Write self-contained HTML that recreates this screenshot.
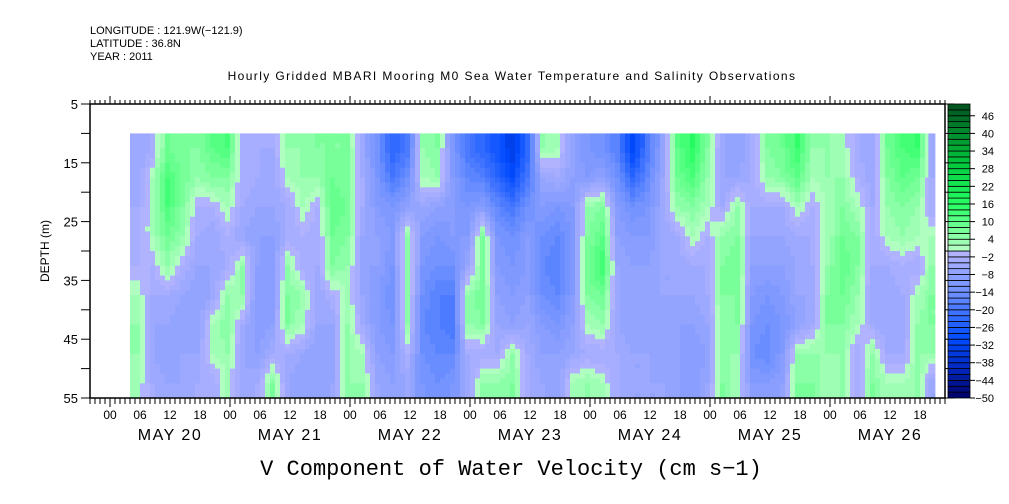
<!DOCTYPE html>
<html><head><meta charset="utf-8"><style>
body{margin:0;background:#fff;width:1009px;height:504px;overflow:hidden}
svg{display:block;font-family:"Liberation Sans",sans-serif}
</style></head><body>
<svg id="chart" width="1009" height="504" viewBox="0 0 1009 504" xmlns="http://www.w3.org/2000/svg">
<g font-size="11" fill="#000">
<text x="90" y="34">LONGITUDE : 121.9W(−121.9)</text>
<text x="90" y="47">LATITUDE : 36.8N</text>
<text x="90" y="60">YEAR : 2011</text>
<text x="512" y="80" text-anchor="middle" font-size="12" letter-spacing="1.4">Hourly Gridded MBARI Mooring M0 Sea Water Temperature and Salinity Observations</text>
</g>
<g id="cells"></g>
<g id="axes"></g>
<g id="cbar"></g>
<text x="49" y="251" transform="rotate(-90 49 251)" text-anchor="middle" font-size="12">DEPTH (m)</text>
<text x="511" y="475" text-anchor="middle" font-size="22" font-family="Liberation Mono, monospace">V Component of Water Velocity (cm s−1)</text>
</svg>
<script>
// hours since May 20 00:00 of first column start; columns 3h wide
const colStartHours = [4,7,10,13,16,19,22,25,28,31,34,37,40,43,46,49,52,55,58,61,64,67,70,73,76,79,82,85,88,91,94,97,100,103,106,109,112,115,118,121,124,127,130,133,136,139,142,145,148,151,154,157,160,163];
const depthEdges = [10,15,20,25,30,35,40,45,50,55];
const velocity = [
[-6,-6,-4,-4,-2,2,4,4,2],
[-4,2,2,2,-2,-4,-6,-6,-4],
[8,12,12,8,4,-4,-6,-8,-6],
[6,8,6,4,-2,-6,-8,-6,-6],
[6,4,-2,-4,-6,-8,-8,-6,-4],
[10,6,-2,-6,-6,-6,2,2,-4],
[12,6,2,-2,-4,4,6,4,2],
[-4,-2,-4,-6,4,4,-4,-6,-6],
[-4,-4,-6,-8,-8,-10,-10,-8,-4],
[-4,-6,-6,-8,-10,-10,-8,-4,6],
[4,2,-4,-4,4,6,6,-4,-6],
[4,4,2,-2,-4,4,2,-6,-8],
[6,4,-2,-4,-4,-6,-6,-8,-8],
[6,8,10,8,6,-2,-6,-8,-6],
[6,6,8,6,4,2,4,4,4],
[-6,-4,-4,-6,-8,-6,-4,2,4],
[-14,-12,-10,-8,-8,-10,-10,-8,-6],
[-24,-20,-12,-10,-12,-14,-12,-10,-8],
[-20,-14,-8,4,6,4,4,-2,-6],
[4,2,-6,-10,-12,-14,-16,-14,-12],
[6,4,-8,-12,-14,-18,-18,-16,-14],
[-12,-10,-10,-10,-14,-18,-20,-16,-12],
[-20,-16,-12,-10,-6,4,4,-4,-6],
[-24,-18,-10,6,6,8,6,-4,4],
[-28,-24,-16,-12,-10,-8,-6,-4,4],
[-34,-30,-20,-14,-12,-10,-8,4,6],
[-24,-20,-14,-10,-10,-8,-6,-4,-4],
[4,-6,-10,-14,-16,-14,-10,-8,-6],
[2,-4,-12,-16,-18,-16,-12,-8,-8],
[-8,-8,-10,-12,-12,-10,-8,-6,2],
[-12,-10,4,6,8,6,2,-4,4],
[-14,-8,6,10,14,8,4,-4,2],
[-18,-14,-10,-8,-6,-6,-6,-4,-4],
[-32,-24,-14,-10,-8,-8,-8,-6,-6],
[-20,-16,-12,-10,-8,-8,-8,-6,-6],
[-8,-6,-6,-6,-6,-6,-8,-8,-6],
[10,8,4,-4,-6,-6,-8,-8,-8],
[16,12,6,2,-4,-6,-8,-10,-10],
[6,4,2,-2,-4,-4,-6,-8,-6],
[-6,-6,-4,4,6,6,4,4,6],
[-8,-6,4,6,8,6,6,4,2],
[-4,-4,-4,-6,-8,-10,-12,-14,-10],
[6,4,-4,-6,-8,-12,-14,-16,-10],
[8,6,-4,-6,-8,-10,-12,-10,-8],
[14,10,2,-4,-6,-6,-8,4,6],
[4,2,-2,-4,-4,-6,-4,4,6],
[4,4,2,2,4,6,6,4,2],
[2,4,6,8,10,8,6,4,4],
[-4,-2,2,6,6,4,2,-4,-4],
[-6,-6,-4,-4,-4,-6,-4,4,6],
[8,6,4,2,-4,-6,-6,-4,2],
[12,10,6,4,-2,-4,-6,-4,2],
[14,8,4,2,-4,2,4,4,4],
[-6,-4,-4,2,4,6,6,4,-6]
];
const colWidthHours = 3;
const dataEndHour = 165;
const cbarLabels = [46,40,34,28,22,16,10,4,-2,-8,-14,-20,-26,-32,-38,-44,-50];
const dayLabels = ["MAY 20","MAY 21","MAY 22","MAY 23","MAY 24","MAY 25","MAY 26"];
const hourLabels = ["00","06","12","18"];

const X0=90,X1=945,Y0=104,Y1=398;
const xScale=h=>110+h*5;             // hours since May 20 00:00
const yScale=d=>Y0+(d-5)*(Y1-Y0)/50; // depth m
const NS="http://www.w3.org/2000/svg";
function mk(t,a,p){const e=document.createElementNS(NS,t);for(const k in a)e.setAttribute(k,a[k]);p.appendChild(e);return e;}
function lerp(a,b,t){return a.map((v,i)=>Math.round(v+(b[i]-v)*t));}
function color(v){
  const neg=[[0,[182,182,255]],[-14,[112,145,255]],[-30,[0,75,255]],[-40,[0,40,190]],[-50,[0,0,100]]];
  const pos=[[0,[185,255,200]],[6,[130,255,160]],[16,[40,255,100]],[30,[0,200,60]],[50,[0,80,30]]];
  const st=v<0?neg:pos;const av=Math.abs(v);
  for(let i=0;i<st.length-1;i++){const a=Math.abs(st[i][0]),b=Math.abs(st[i+1][0]);
    if(av<=b){return lerp(st[i][1],st[i+1][1],(av-a)/(b-a));}}
  return st[st.length-1][1];
}
function q(v){return v<0?-2*Math.ceil(-v/2)+1:2*Math.floor(v/2)+1;}
const cells=document.getElementById('cells');
const SUBX=3,SUBY=6,nC=colStartHours.length,nR=depthEdges.length-1;
function val(ci,ri){ci=Math.max(0,Math.min(nC-1,ci));ri=Math.max(0,Math.min(nR-1,ri));return velocity[ci][ri];}
for(let c=0;c<nC;c++){
  const h0=colStartHours[c],h1=Math.min(h0+colWidthHours,dataEndHour);
  for(let r=0;r<nR;r++){
    for(let sx=0;sx<SUBX;sx++)for(let sy=0;sy<SUBY;sy++){
      const fx=(sx+0.5)/SUBX-0.5,fy=(sy+0.5)/SUBY-0.5;
      const cx=c+fx,cy=r+fy;const c0=Math.floor(cx),r0=Math.floor(cy);const tx=cx-c0,ty=cy-r0;
      const v=(1-tx)*(1-ty)*val(c0,r0)+tx*(1-ty)*val(c0+1,r0)+(1-tx)*ty*val(c0,r0+1)+tx*ty*val(c0+1,r0+1);
      const hA=h0+(h1-h0)*sx/SUBX,hB=h0+(h1-h0)*(sx+1)/SUBX;
      const dA=depthEdges[r]+5*sy/SUBY,dB=depthEdges[r]+5*(sy+1)/SUBY;
      const x=xScale(hA),y=yScale(dA);
      const e=mk('rect',{x:x.toFixed(2),y:y.toFixed(2),width:(xScale(hB)-x+0.4).toFixed(2),height:(yScale(dB)-y+0.4).toFixed(2),fill:'rgb('+color(q(v))+')'},cells);
      
      
    }
  }
}
const ax=document.getElementById('axes');
mk('rect',{x:X0,y:Y0,width:X1-X0,height:Y1-Y0,fill:'none',stroke:'#000','stroke-width':1.5},ax);
for(let d=5;d<=55;d+=5){const y=yScale(d);
  mk('line',{x1:X0-9,x2:X0,y1:y,y2:y,stroke:'#000'},ax);
  mk('line',{x1:X1,x2:X1+9,y1:y,y2:y,stroke:'#000'},ax);
  if((d-5)%10===0){const t=mk('text',{x:X0-12,y:y+5,'text-anchor':'end','font-size':13},ax);t.textContent=d;
    
    }
}
for(let h=-4;h<=167;h++){const x=xScale(h);if(x<X0||x>X1)continue;
  const major=h%24===0,six=h%6===0;
  mk('line',{x1:x,x2:x,y1:Y0,y2:Y0-(major?8:4),stroke:'#000'},ax);
  mk('line',{x1:x,x2:x,y1:Y1,y2:Y1+(major?9:6),stroke:'#000'},ax);
  if(six){const t=mk('text',{x:x,y:Y1+21,'text-anchor':'middle','font-size':12},ax);t.textContent=hourLabels[((h/6)%4+4)%4];
    
    }
}
dayLabels.forEach((l,i)=>{const t=mk('text',{x:xScale(24*i+12),y:Y1+42,'text-anchor':'middle','font-size':16,'letter-spacing':1.5},ax);t.textContent=l;
  
  });
const cb=document.getElementById('cbar');
const bh=(Y1-Y0)/50;
for(let i=0;i<50;i++){const lo=-50+2*i;const y=Y1-(i+1)*bh;
  const e=mk('rect',{x:948,y:y.toFixed(2),width:22,height:bh.toFixed(2),fill:'rgb('+color(lo+1)+')',stroke:'#000','stroke-width':0.8},cb);
  
  }
cbarLabels.forEach(v=>{const y=Y1-(v+50)/100*(Y1-Y0);
  mk('line',{x1:970,x2:975,y1:y,y2:y,stroke:'#000'},cb);
  const t=mk('text',{x:994,y:y+4,'text-anchor':'end','font-size':11},cb);t.textContent=v<0?'−'+(-v):v;
  
  });
</script>
</body></html>
